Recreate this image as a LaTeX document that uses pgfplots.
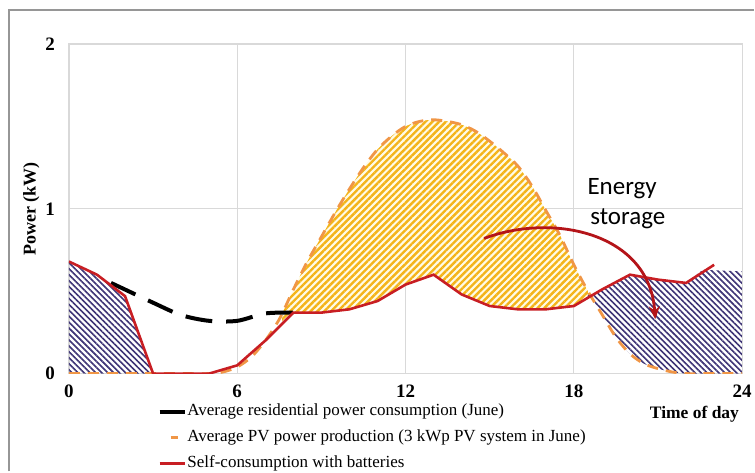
\documentclass[border=0pt]{standalone}
\usepackage{fontspec}
\setmainfont{Liberation Serif}
\newfontfamily\calib{Carlito}
\usepackage{pgfplots}
\usepackage{pgfplotstable}
\pgfplotsset{compat=1.18}
\usepgfplotslibrary{fillbetween}
\usetikzlibrary{patterns.meta,arrows.meta}
\definecolor{pvorange}{RGB}{240,150,70}
\definecolor{selfred}{RGB}{200,30,35}
\definecolor{arrowred}{RGB}{180,20,25}
\definecolor{navy}{RGB}{62,52,118}
\definecolor{hatchyellow}{RGB}{244,180,25}
\definecolor{paleyellow}{RGB}{255,251,230}
\definecolor{gridgray}{RGB}{217,217,217}
\definecolor{framegray}{RGB}{150,150,150}

\pgfplotstableread{
x y
0 0
1 0
2 0
3 0
4 0
5 0
5.5 0.01
6 0.04
6.5 0.1
7 0.2
7.5 0.33
8 0.51
8.5 0.68
9 0.83
9.5 0.98
10 1.12
10.5 1.25
11 1.36
11.5 1.44
12 1.5
12.5 1.53
13 1.54
13.5 1.53
14 1.51
14.5 1.47
15 1.41
15.5 1.34
16 1.26
16.5 1.14
17 0.99
17.5 0.84
18 0.66
18.5 0.5
19 0.36
19.5 0.22
20 0.12
20.5 0.06
21 0.03
21.5 0.01
22 0
23 0
24 0
}\pvtable

\pgfplotstableread{
x y
0 0.68
1 0.6
2 0.47
3 0
4 0
5 0
6 0.05
7 0.2
8 0.37
9 0.37
10 0.39
11 0.44
12 0.54
13 0.6
14 0.48
15 0.41
16 0.39
17 0.39
18 0.41
19 0.51
20 0.6
21 0.57
22 0.55
23 0.66
}\redtable

\pgfplotstableread{
x y
18 0.41
19 0.51
20 0.6
21 0.57
22 0.55
22.6 0.63
24 0.62
}\constable

\pgfplotstableread{
x y
1.5 0.55
2 0.51
3 0.43
4 0.355
5 0.32
6 0.32
7 0.365
8 0.37
}\blacktable

\begin{document}
\begin{tikzpicture}
\path (0pt,0pt) rectangle (755pt,472pt);
\draw[framegray, line width=1.5pt] (9pt,0pt) -- (9pt,462pt) -- (755pt,462pt);
\begin{axis}[
  at={(69pt,98pt)}, anchor=south west,
  scale only axis, width=674pt, height=330pt,
  xmin=0, xmax=24, ymin=0, ymax=2,
  xtick={0,6,12,18,24}, ytick={0,1,2},
  grid=major, major grid style={gridgray, line width=1.2pt},
  axis line style={gridgray, line width=1.2pt},
  tick style={draw=none},
  set layers,
  /pgf/number format/assume math mode=true,
  tick label style={font=\fontsize{19}{22}\selectfont\bfseries},
  xticklabel style={yshift=-7.5pt},
  yticklabel style={xshift=-10.5pt},
  ylabel={Power (kW)},
  every axis y label/.style={at={(axis description cs:-0.056,0.5)}, rotate=90, anchor=center, font=\fontsize{18}{21}\selectfont\bfseries},
  legend style={at={(axis description cs:0.132,-0.088)}, anchor=north west, draw=none, fill=none,
    font=\fontsize{17}{20}\selectfont, inner sep=0pt, row sep=8pt,
    nodes={inner sep=1pt, text height=12pt, text depth=4pt}},
  legend cell align=left,
]
\addlegendimage{legend image code/.code={\draw[black, line width=3.5pt] (0pt,0pt) -- (25pt,0pt);}}
\addlegendentry{Average residential power consumption (June)}
\addlegendimage{legend image code/.code={\draw[pvorange, line width=3pt] (11pt,0pt) -- (18pt,0pt);}}
\addlegendentry{Average PV power production (3 kWp PV system in June)}
\addlegendimage{legend image code/.code={\draw[selfred, line width=3pt] (0pt,0pt) -- (25pt,0pt);}}
\addlegendentry{Self-consumption with batteries}

\addplot[draw=none, smooth, name path=pv, forget plot] table {\pvtable};
\addplot[draw=none, name path=red, forget plot] table {\redtable};
\addplot[draw=none, name path=cons, forget plot] table {\constable};

\addplot[draw=none, fill=paleyellow, forget plot] fill between[of=pv and red, soft clip={domain=7.6:18.5}];
\addplot[draw=none, pattern={Lines[angle=45,distance=4.8pt,line width=2.4pt]}, pattern color=hatchyellow, forget plot] fill between[of=pv and red, soft clip={domain=7.6:18.5}];
\addplot[draw=none, pattern={Lines[angle=-45,distance=4.2pt,line width=1.6pt]}, pattern color=navy, forget plot] fill between[of=cons and pv, soft clip={domain=18.5:24}];
\addplot[draw=none, pattern={Lines[angle=-45,distance=4.2pt,line width=1.6pt]}, pattern color=navy, forget plot] fill between[of=red and pv, soft clip={domain=0:3}];

\addplot[pvorange, line width=2.8pt, smooth, dash pattern=on 11pt off 8pt, forget plot] table {\pvtable};
\addplot[black, line width=4pt, smooth, dash pattern=on 27pt off 14pt, forget plot] table {\blacktable};
\addplot[selfred, line width=2.6pt, forget plot] table {\redtable};

\draw[arrowred, line width=2.8pt, -{Stealth[length=13pt,width=11pt]}] (axis cs:14.8,0.82) .. controls (axis cs:17.3,0.98) and (axis cs:20.7,0.85) .. (axis cs:20.9,0.33);
\node[anchor=base west, font=\calib\fontsize{25}{30}\selectfont, inner sep=0pt] at (axis cs:18.48,1.085) {Energy};
\node[anchor=base west, font=\calib\fontsize{25}{30}\selectfont, inner sep=0pt] at (axis cs:18.58,0.903) {storage};
\end{axis}
\node[anchor=base east, font=\fontsize{17.5}{20}\selectfont\bfseries, inner sep=0pt] at (740pt,53pt) {Time of day};
\end{tikzpicture}
\end{document}
